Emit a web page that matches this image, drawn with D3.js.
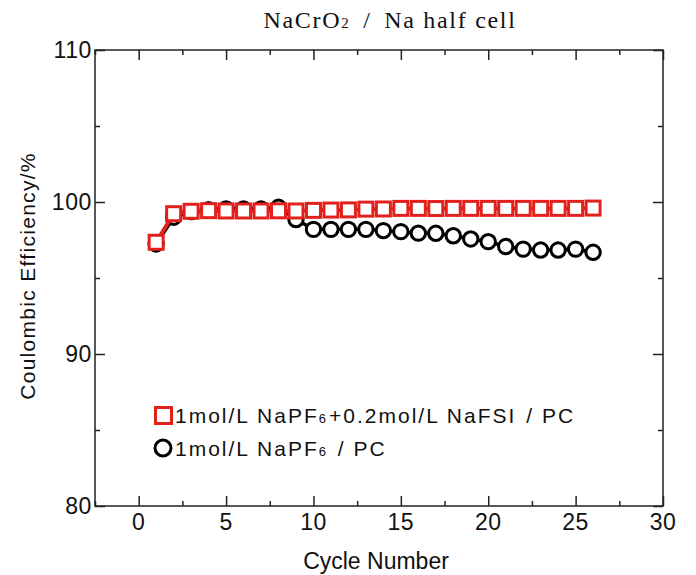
<!DOCTYPE html>
<html><head><meta charset="utf-8">
<script src="https://cdn.jsdelivr.net/npm/d3@7"></script>
<style>body{margin:0;background:#fff}</style>
</head><body>
<script>
const cycles = d3.range(1, 27);
const seriesPCFSI = [97.35, 99.23, 99.39, 99.43, 99.41, 99.41, 99.41, 99.42, 99.41, 99.45, 99.47, 99.48, 99.53, 99.54, 99.58, 99.58, 99.57, 99.58, 99.58, 99.58, 99.58, 99.58, 99.58, 99.58, 99.58, 99.6];
const seriesPC = [97.24, 99.0, 99.37, 99.5, 99.55, 99.55, 99.55, 99.65, 98.85, 98.2, 98.2, 98.2, 98.2, 98.12, 98.05, 97.95, 97.94, 97.78, 97.57, 97.39, 97.07, 96.9, 96.84, 96.84, 96.9, 96.69];
const xTicks = [0, 5, 10, 15, 20, 25, 30];
const xMinor = [-2.5, 2.5, 7.5, 12.5, 17.5, 22.5, 27.5];
const yTicks = [80, 90, 100, 110];
const yMinor = [85, 95, 105];

const W = 696, H = 575;
const L = 95, R = 663, T = 50, B = 506;
const svg = d3.select("body").append("svg").attr("width", W).attr("height", H);
const x = d3.scaleLinear().domain([-2.5, 30]).range([L, R]);
const y = d3.scaleLinear().domain([80, 110]).range([B, T]);
const sans = "'Liberation Sans', Arial, sans-serif";
const axCol = "#222";

// frame
svg.append("rect").attr("x", L).attr("y", T).attr("width", R - L).attr("height", B - T)
  .attr("fill", "none").attr("stroke", axCol).attr("stroke-width", 1.5);

function inward(axisGen, tr, vals, size) {
  svg.append("g").attr("transform", tr)
    .call(axisGen.tickValues(vals).tickSize(size).tickFormat(""))
    .call(g => g.select(".domain").remove())
    .call(g => g.selectAll("line").attr("stroke", axCol).attr("stroke-width", 1.5));
}
inward(d3.axisTop(x), `translate(0,${B})`, xTicks, 10);
inward(d3.axisTop(x), `translate(0,${B})`, xMinor, 5);
inward(d3.axisBottom(x), `translate(0,${T})`, xTicks, 10);
inward(d3.axisBottom(x), `translate(0,${T})`, xMinor, 5);
inward(d3.axisRight(y), `translate(${L},0)`, yTicks, 10);
inward(d3.axisRight(y), `translate(${L},0)`, yMinor, 5);
inward(d3.axisLeft(y), `translate(${R},0)`, yTicks, 10);
inward(d3.axisLeft(y), `translate(${R},0)`, yMinor, 5);

// tick labels
svg.append("g").selectAll("text").data(xTicks).join("text")
  .attr("x", d => x(d)).attr("y", 530).attr("text-anchor", "middle")
  .attr("font-family", sans).attr("font-size", 23).attr("letter-spacing", 0.5).attr("fill", "#111").text(d => d);
svg.append("g").selectAll("text").data(yTicks).join("text")
  .attr("x", 92).attr("y", d => y(d) + 8).attr("text-anchor", "end")
  .attr("font-family", sans).attr("font-size", 23).attr("letter-spacing", 0.6).attr("fill", "#111").text(d => d);

// axis titles
svg.append("text").attr("x", 376).attr("y", 569).attr("text-anchor", "middle")
  .attr("font-family", sans).attr("font-size", 23).attr("fill", "#111").text("Cycle Number");
svg.append("text").attr("transform", `translate(35,${276}) rotate(-90)`)
  .attr("text-anchor", "middle").attr("font-family", sans).attr("font-size", 21)
  .attr("letter-spacing", 1.3).attr("fill", "#111")
  .text("Coulombic Efficiency/%");

// title
const title = svg.append("text").attr("x", 390).attr("y", 28).attr("text-anchor", "middle")
  .attr("font-family", "'Liberation Serif', 'Times New Roman', serif").attr("font-size", 24)
  .attr("letter-spacing", 1.7).attr("fill", "#111");
title.append("tspan").text("NaCrO");
title.append("tspan").attr("font-size", 15).text("2");
title.append("tspan").attr("dx", 5).text(" / ");
title.append("tspan").attr("dx", 5).text("Na half cell");

const red = "#e3211c";
const line = d3.line().x((d, i) => x(cycles[i])).y(d => y(d));

// black series
svg.append("path").datum(seriesPC).attr("d", line).attr("fill", "none")
  .attr("stroke", "#000").attr("stroke-width", 3.5);
svg.append("g").selectAll("circle").data(seriesPC).join("circle")
  .attr("cx", (d, i) => x(cycles[i])).attr("cy", d => y(d)).attr("r", 7.2)
  .attr("fill", "#fff").attr("stroke", "#000").attr("stroke-width", 3);

// red series
svg.append("path").datum(seriesPCFSI).attr("d", line).attr("fill", "none")
  .attr("stroke", red).attr("stroke-width", 4);
const s = 14;
svg.append("g").selectAll("rect").data(seriesPCFSI).join("rect")
  .attr("x", (d, i) => x(cycles[i]) - s / 2).attr("y", d => y(d) - s / 2)
  .attr("width", s).attr("height", s)
  .attr("fill", "#fff").attr("stroke", red).attr("stroke-width", 3);

// legend
svg.append("rect").attr("x", 155.5).attr("y", 407.5).attr("width", 16).attr("height", 16)
  .attr("fill", "#fff").attr("stroke", red).attr("stroke-width", 3);
svg.append("circle").attr("cx", 163).attr("cy", 448).attr("r", 8)
  .attr("fill", "#fff").attr("stroke", "#000").attr("stroke-width", 3);
function legendText(yPos, parts) {
  const t = svg.append("text").attr("x", 175).attr("y", yPos).attr("font-family", sans)
    .attr("font-size", 21).attr("letter-spacing", 2).attr("fill", "#111");
  parts.forEach(p => {
    const ts = t.append("tspan").text(p.t);
    if (p.sub) ts.attr("font-size", 13);
    if (p.dx) ts.attr("dx", p.dx);
  });
}
legendText(423, [{t: "1mol/L NaPF"}, {t: "6", sub: true}, {t: "+0.2mol/L NaFSI", dx: 1}, {t: " / PC", dx: 2}]);
legendText(456, [{t: "1mol/L NaPF"}, {t: "6", sub: true}, {t: " / PC", dx: 2}]);
</script>
</body></html>
